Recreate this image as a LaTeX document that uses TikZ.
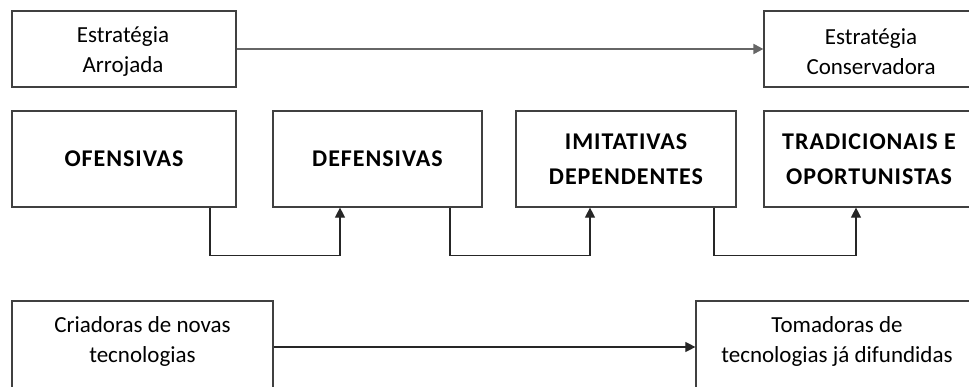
\documentclass[tikz,border=0pt]{standalone}
\usepackage{fontspec}
\setmainfont{Carlito}
\usetikzlibrary{arrows.meta}
\tikzset{
  box/.style={draw=black!75, line width=1.2pt, fill=white, inner sep=0pt,
    align=center, font=\fontsize{23}{30}\selectfont},
  bigbox/.style={box, minimum height=76pt},
  catbox/.style={box, minimum height=96pt,
    font=\fontsize{24}{35}\selectfont\bfseries\addfontfeature{LetterSpace=4}},
  lbl/.style={align=center, inner sep=0pt, font=\fontsize{23}{30}\selectfont},
  tip/.style={-{Triangle[length=10pt,width=10pt]}},
  mainarrow/.style={tip, draw=black!60, line width=2pt},
  conn/.style={tip, draw=black!85, line width=1.1pt},
}
\begin{document}
\begin{tikzpicture}[x=1pt,y=1pt]
  \useasboundingbox (0,0) rectangle (969,-387);
  \clip (0,0) rectangle (969,-387);

  % top row: range of strategies
  \node[bigbox, minimum width=224pt] (arr) at (124,-49) {};
  \node[bigbox, minimum width=214pt] (cons) at (871,-49) {};
  \node[lbl] (arrt) at (123,-52) {Estratégia\\Arrojada};
  \node[lbl] (const) at (871,-52) {Estratégia\\Conservadora};
  \draw[mainarrow] (arr.east) -- (cons.west);

  % middle row: types of strategy
  \node[catbox, minimum width=224pt] (ofe) at (124,-159) {OFENSIVAS};
  \node[catbox, minimum width=209pt] (def) at (377.5,-159) {DEFENSIVAS};
  \node[catbox, minimum width=220pt] (imi) at (626,-159) {IMITATIVAS\\DEPENDENTES};
  \node[catbox, minimum width=210pt] (tra) at (869,-159) {TRADICIONAIS E\\OPORTUNISTAS};

  \draw[conn] ([xshift=86pt]ofe.south) -- ++(0,-48) -| ([xshift=-37.5pt]def.south);
  \draw[conn] ([xshift=72.5pt]def.south) -- ++(0,-48) -| ([xshift=-36pt]imi.south);
  \draw[conn] ([xshift=88pt]imi.south) -- ++(0,-48) -| ([xshift=-13pt]tra.south);

  % bottom row: technology
  \node[box, minimum width=261pt, minimum height=120pt] (cri) at (142.5,-361) {};
  \node[box, minimum width=282pt, minimum height=120pt] (tom) at (837,-361) {};
  \node[lbl] (crit) at (142.5,-341) {Criadoras de novas\\tecnologias};
  \node[lbl] (tomt) at (837,-341) {Tomadoras de\\tecnologias já difundidas};
  \draw[conn] (cri.east |- 0,-347) -- (tom.west |- 0,-347);
\end{tikzpicture}
\end{document}
